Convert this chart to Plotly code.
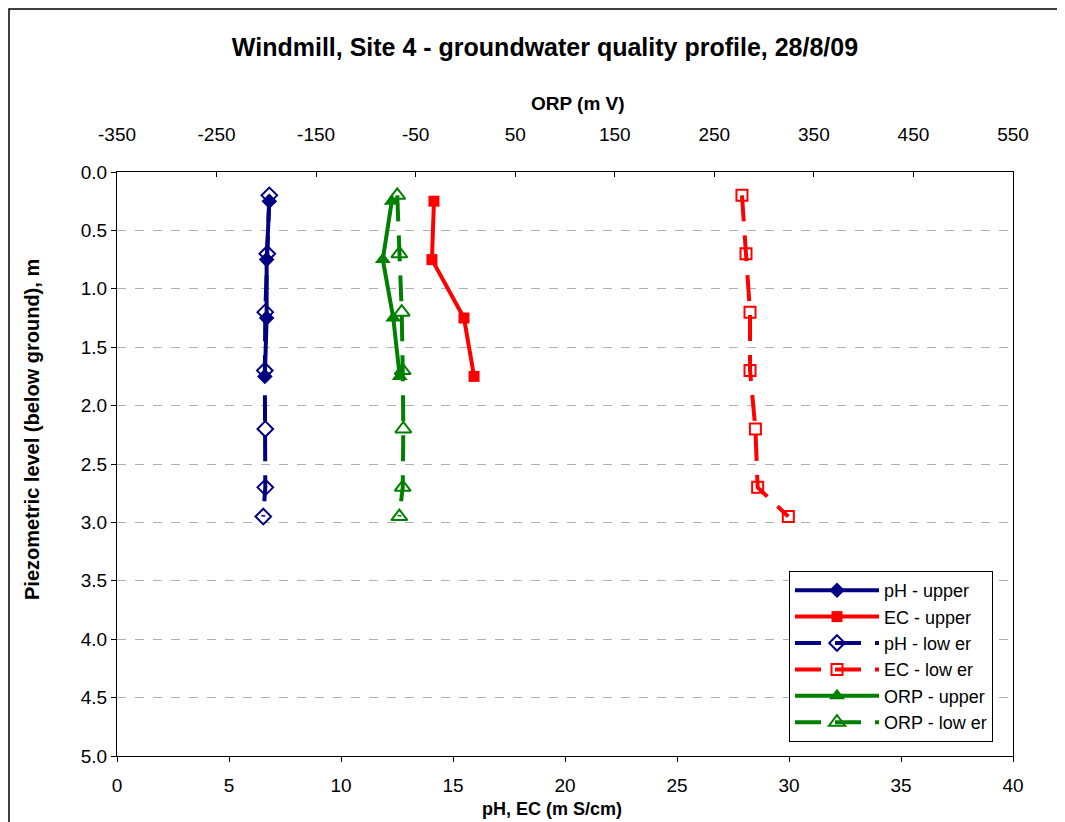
import plotly.graph_objects as go

depth_upper = [0.25, 0.75, 1.25, 1.75]
depth_lower = [0.2, 0.7, 1.2, 1.7, 2.2, 2.7, 2.95]

ph_upper = [6.8, 6.68, 6.68, 6.6]
ec_upper = [14.15, 14.06, 15.49, 15.94]
orp_upper = [-74, -83, -72.5, -66]

ph_lower = [6.8, 6.71, 6.62, 6.6, 6.62, 6.62, 6.53]
ec_lower = [27.9, 28.08, 28.26, 28.26, 28.5, 28.6, 29.97]
orp_lower = [-68.5, -66.4, -64, -63, -62.4, -63, -66.4]

x_ticks = [0, 5, 10, 15, 20, 25, 30, 35, 40]
orp_ticks = [-350, -250, -150, -50, 50, 150, 250, 350, 450, 550]
y_ticks = [0.0, 0.5, 1.0, 1.5, 2.0, 2.5, 3.0, 3.5, 4.0, 4.5, 5.0]

NAVY = "#000080"
RED = "#FF0000"
GREEN = "#008000"
DASH = "26px,14px"
FONT = "Liberation Sans, Arial, sans-serif"

fig = go.Figure()

fig.add_trace(go.Scatter(x=ph_upper, y=depth_upper, name="pH - upper", mode="lines+markers",
                         line=dict(color=NAVY, width=4),
                         marker=dict(symbol="diamond", size=12, color=NAVY)))
fig.add_trace(go.Scatter(x=ec_upper, y=depth_upper, name="EC - upper", mode="lines+markers",
                         line=dict(color=RED, width=4),
                         marker=dict(symbol="square", size=11, color=RED)))
fig.add_trace(go.Scatter(x=ph_lower, y=depth_lower, name="pH - low er", mode="lines+markers",
                         line=dict(color=NAVY, width=4, dash=DASH),
                         marker=dict(symbol="diamond-open", size=12, color=NAVY, line=dict(width=2, color=NAVY))))
fig.add_trace(go.Scatter(x=ec_lower, y=depth_lower, name="EC - low er", mode="lines+markers",
                         line=dict(color=RED, width=4, dash=DASH),
                         marker=dict(symbol="square-open", size=11, color=RED, line=dict(width=2, color=RED))))
fig.add_trace(go.Scatter(x=orp_upper, y=depth_upper, name="ORP - upper", mode="lines+markers",
                         xaxis="x2",
                         line=dict(color=GREEN, width=4),
                         marker=dict(symbol="triangle-up", size=14, color=GREEN)))
fig.add_trace(go.Scatter(x=orp_lower, y=depth_lower, name="ORP - low er", mode="lines+markers",
                         xaxis="x2",
                         line=dict(color=GREEN, width=4, dash=DASH),
                         marker=dict(symbol="triangle-up-open", size=14, color=GREEN, line=dict(width=2, color=GREEN))))

# page has an 8px body margin; work in page pixels and convert
OFF = 8
W, H = 1057, 814
L, R, T, B = 117, 1013, 172, 756  # plot area in page pixels
pw, ph = R - L, B - T


def px(xp):
    return (xp - L) / pw


def py(yp):
    return (B - yp) / ph


TICKF = dict(family=FONT, size=19, color="black")
AXF = dict(family=FONT, size=19, color="black")

fig.update_layout(
    width=W, height=H,
    margin=dict(l=L - OFF, r=W + OFF - R, t=T - OFF, b=H + OFF - B, autoexpand=False),
    paper_bgcolor="white", plot_bgcolor="white",
    font=dict(family=FONT, size=19, color="black"),
    showlegend=True,
    title=dict(text="<b>Windmill, Site 4 - groundwater quality profile, 28/8/09</b>",
               x=(545 - OFF) / W, xanchor="center", xref="container",
               y=1 - (47 - OFF) / H, yanchor="middle", yref="container",
               font=dict(family=FONT, size=25, color="black")),
    xaxis=dict(range=[0, 40], tickmode="array", tickvals=x_ticks, showgrid=False, zeroline=False,
               showline=True, linecolor="black", linewidth=1, mirror=True,
               ticks="outside", ticklen=5, tickcolor="black", tickfont=TICKF,
               ticklabelstandoff=7),
    xaxis2=dict(range=[-350, 550], tickmode="array", tickvals=orp_ticks,
                ticktext=[str(v) for v in orp_ticks], overlaying="x", side="top",
                showgrid=False, zeroline=False, showline=True, linecolor="black", linewidth=1,
                ticks="inside", ticklen=5, tickcolor="black", tickfont=TICKF,
                ticklabelstandoff=22),
    yaxis=dict(range=[5, 0], tickmode="array", tickvals=y_ticks, tickformat=".1f",
               showgrid=True, gridcolor="#B0B0B0", griddash="dash", gridwidth=1,
               zeroline=False, showline=True, linecolor="black", linewidth=1, mirror=True,
               ticks="outside", ticklen=5, tickcolor="black", tickfont=TICKF),
    legend=dict(x=px(993), xanchor="right", y=py(742), yanchor="bottom",
                bgcolor="white", bordercolor="black", borderwidth=1,
                font=dict(family=FONT, size=18, color="black"), itemwidth=84, tracegroupgap=0),
    annotations=[
        dict(text="<b>ORP (m V)</b>", xref="paper", yref="paper", x=px(578), y=py(103),
             xanchor="center", yanchor="middle", showarrow=False, font=AXF),
        dict(text="<b>pH, EC (m S/cm)</b>", xref="paper", yref="paper", x=px(552), y=py(809),
             xanchor="center", yanchor="middle", showarrow=False,
             font=dict(family=FONT, size=18, color="black")),
        dict(text="<b>Piezometric level (below ground), m</b>", xref="paper", yref="paper",
             x=px(32), y=py(430), xanchor="center", yanchor="middle", showarrow=False,
             textangle=-90, font=dict(family=FONT, size=20, color="black")),
    ],
)

fig.add_shape(type="rect", xref="paper", yref="paper",
              x0=px(9), x1=px(1062), y0=py(840), y1=py(9),
              line=dict(color="black", width=1.5), fillcolor="rgba(0,0,0,0)", layer="below")

fig.write_html("out.html")
